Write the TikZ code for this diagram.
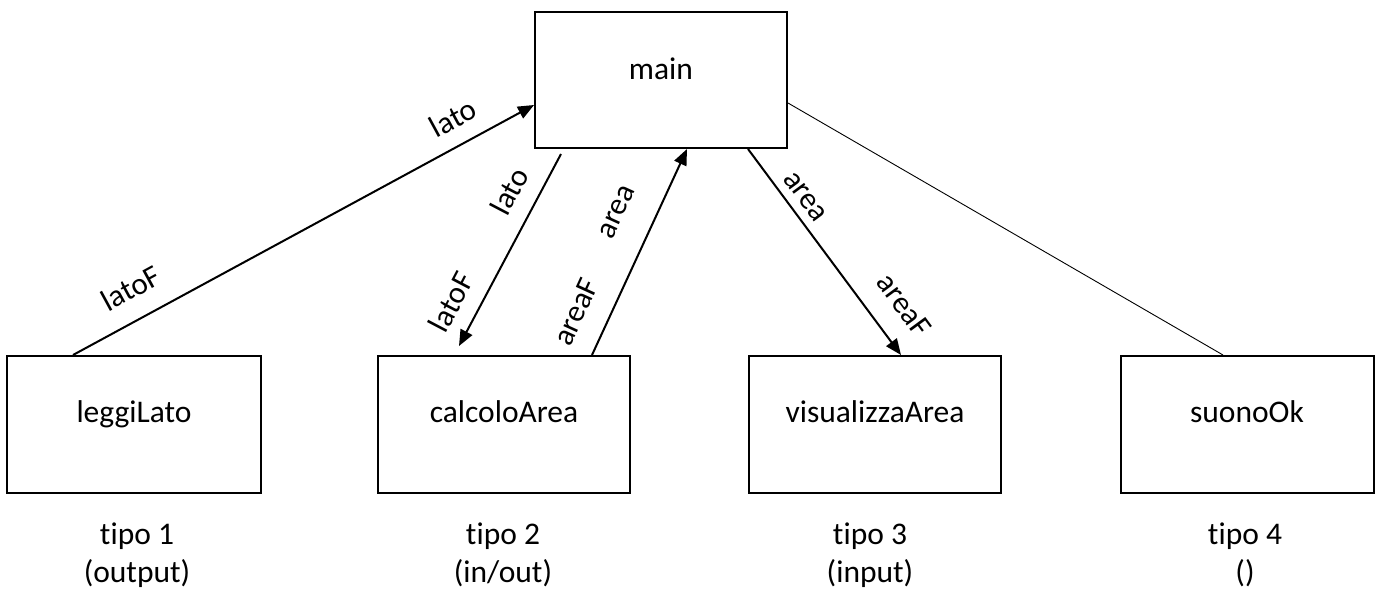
\documentclass[tikz,border=0pt]{standalone}
\usepackage{fontspec}
\setmainfont{Carlito}[Ligatures={NoCommon}]
\usetikzlibrary{arrows.meta}
\begin{document}
\begin{tikzpicture}[x=1pt,y=1pt,
  box/.style={draw, line width=2pt, rectangle, inner sep=0pt},
  txt/.style={font=\fontsize{31.5}{38}\selectfont, inner sep=0pt, anchor=base},
  elbl/.style={font=\fontsize{31}{38}\selectfont, inner sep=0pt},
  arr/.style={line width=2pt, -{Triangle[length=16pt,width=13pt]}},
  thin/.style={line width=0.9pt}
]
\useasboundingbox (0,0) rectangle (1379,-597);
% boxes
\node[box, minimum width=252pt, minimum height=136pt] (main) at (661,-80) {};
\node[box, minimum width=254pt, minimum height=137pt] (leggi) at (134,-424.5) {};
\node[box, minimum width=252pt, minimum height=137pt] (calc) at (504,-424.5) {};
\node[box, minimum width=252pt, minimum height=137pt] (vis) at (875,-424.5) {};
\node[box, minimum width=253pt, minimum height=137pt] (suono) at (1247.5,-424.5) {};
% box texts
\node[txt] (mainT) at (661,-79) {main};
\node[txt] (leggiT) at (134,-422) {leggiLato};
\node[txt] (calcT) at (504,-422) {calcoloArea};
\node[txt] (visT) at (875,-422) {visualizzaArea};
\node[txt] (suonoT) at (1247,-422) {suonoOk};
% tipo labels
\node[txt] (t1) at (137,-544) {tipo 1};
\node[txt] (o1) at (137,-582) {(output)};
\node[txt] (t2) at (503,-544) {tipo 2};
\node[txt] (o2) at (503,-582) {(in/out)};
\node[txt] (t3) at (870,-544) {tipo 3};
\node[txt] (o3) at (870,-582) {(input)};
\node[txt] (t4) at (1245,-544) {tipo 4};
\node[txt] (o4) at (1245,-582) {()};
% connectors
\draw[arr] ([xshift=67pt]leggi.north west) -- ([yshift=-25pt]main.west);
\draw[arr] ([xshift=27pt,yshift=-5pt]main.south west) -- ([xshift=82pt,yshift=9pt]calc.north west);
\draw[arr] ([xshift=215pt]calc.north west) -- ([xshift=153pt]main.south west);
\draw[arr] ([xshift=214pt]main.south west) -- ([xshift=153pt]vis.north west);
\draw[thin] ([yshift=-23pt]main.east) -- ([xshift=103pt]suono.north west);
% edge labels
\node[elbl, rotate=28.6] (l1a) at (453,-118) {lato};
\node[elbl, rotate=28.6] (l1b) at (131,-288) {latoF};
\node[elbl, rotate=62.3] (l2a) at (509,-191) {lato};
\node[elbl, rotate=62.3] (l2b) at (451,-302) {latoF};
\node[elbl, rotate=65.4] (l3a) at (617,-212) {area};
\node[elbl, rotate=65.4] (l3b) at (576,-312) {areaF};
\node[elbl, rotate=-53.7] (l4a) at (805,-197) {area};
\node[elbl, rotate=-53.7] (l4b) at (904,-305) {areaF};
\end{tikzpicture}
\end{document}
